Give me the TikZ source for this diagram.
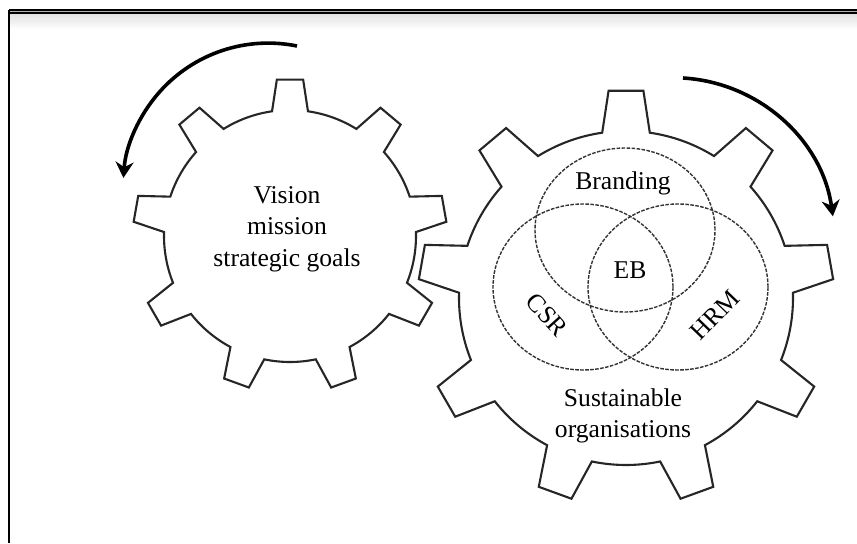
\documentclass[tikz,border=0pt]{standalone}
\usepackage{fontspec}
\setmainfont{Liberation Serif}
\usetikzlibrary{arrows.meta,shapes.geometric}

\begin{document}
\begin{tikzpicture}[x=0.5pt,y=0.5pt]
	\tikzstyle{cog}=[draw=black!85,line width=1.05pt,fill=white,line join=miter]
	\tikzstyle{venn}=[ellipse,draw=black!80,line width=0.7pt,dash pattern=on 1.8pt off 0.7pt,inner sep=0pt]
	\tikzstyle{turn}=[line width=1.8pt,-{Stealth[length=8pt,width=9pt]}]
	\tikzstyle{txt}=[font=\fontsize{12.8}{15.8}\selectfont,align=center,inner sep=0pt]

	\fill[white] (0,0) rectangle (857,543);
	\useasboundingbox (0,0) rectangle (857,543);
	% frame
	\shade[top color=gray!25,bottom color=white] (9,514) rectangle (857,530);
	\draw[line width=0.8pt,double=gray!60,double distance=0.7pt] (9,531.5) -- (857,531.5);
	\draw[line width=1pt] (9.3,0) -- (9.3,533);

	% cog wheels
	\draw[cog,shift={(290,307)}] (81.8:126)
		\foreach \a in {90,130,...,410} { -- (\a-4.8:157) -- (\a+4.8:157) -- (\a+8.2:126) arc[start angle=\a+8.2,end angle=\a+31.8,radius=126] } -- cycle;
	\draw[cog,shift={(626,245)}] (81.8:167)
		\foreach \a in {90,130,...,410} { -- (\a-4.8:208) -- (\a+4.8:208) -- (\a+8.2:167) arc[start angle=\a+8.2,end angle=\a+31.8,radius=167] } -- cycle;

	% venn
	\node[venn,minimum width=90pt,minimum height=82pt] (branding) at (625,313) {};
	\node[venn,minimum width=90pt,minimum height=83pt] (csr) at (583,256) {};
	\node[venn,minimum width=90pt,minimum height=83pt] (hrm) at (678,256) {};

	\node[txt] (brandtxt) at (623,360) {Branding};
	\node[txt] (ebtxt) at (630,273) {EB};
	\node[txt,rotate=-48] (csrtxt) at (547,228) {CSR};
	\node[txt,rotate=46] (hrmtxt) at (715,228) {HRM};
	\node[txt] (sustain) at (623,127) {Sustainable\\organisations};
	\node[txt] (vision) at (287,314) {Vision\\mission\\strategic goals};

	% rotation arrows
	\coordinate (lstart) at (297,497);
	\draw[turn] (lstart) arc[start angle=78.5,end angle=176,radius=145];
	\coordinate (rstart) at (683,465);
	\draw[turn] (rstart) arc[start angle=86.6,end angle=8,radius=161];
\end{tikzpicture}
\end{document}
